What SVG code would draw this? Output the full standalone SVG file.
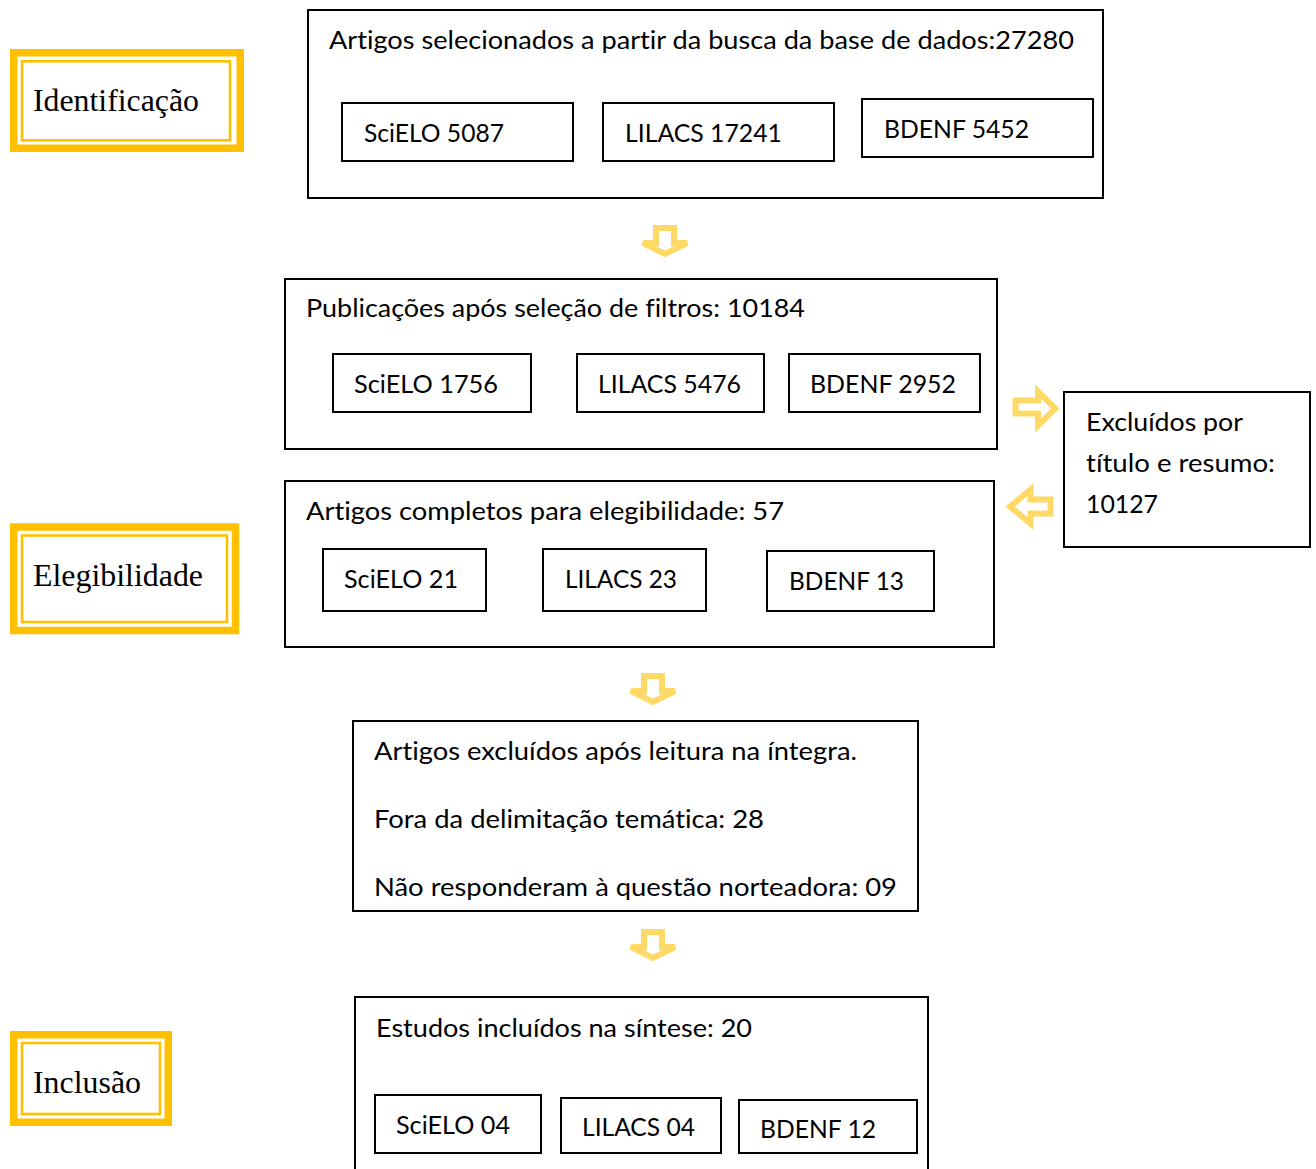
<svg xmlns="http://www.w3.org/2000/svg" xmlns:xlink="http://www.w3.org/1999/xlink" width="1316" height="1169" viewBox="0 0 1316 1169">
<style>
.box{fill:#fff;stroke:#000;stroke-width:2}
.t{font-family:Lato,"Open Sans","Liberation Sans",sans-serif;font-size:25px;fill:#000;font-variant-ligatures:none;font-feature-settings:"liga" 0}
.s{font-family:"Liberation Serif","Times New Roman",serif;font-size:32px;fill:#000}
.gold{fill:#fff;stroke:#FFC000;stroke-width:7.5}
.gold2{fill:none;stroke:#FFC000;stroke-width:2.6}
.arr{fill:#fff;stroke:#FFD966;stroke-width:6;stroke-linejoin:miter}
</style>
<defs>
<path id="down" d="M-9,3 H9 V18 H22 L0,29 L-22,18 H-9 Z"/>
</defs>
<rect width="1316" height="1169" fill="#fff"/>

<g id="label-identificacao">
<rect class="gold" x="13.75" y="52.75" width="226.5" height="95.5"/>
<rect class="gold2" x="22" y="61.3" width="208" height="79"/>
<text class="s" x="33" y="111" textLength="166" lengthAdjust="spacingAndGlyphs">Identificação</text>
</g>
<g id="label-elegibilidade">
<rect class="gold" x="13.75" y="527" width="221.75" height="103.5"/>
<rect class="gold2" x="22" y="535.5" width="205" height="86.5"/>
<text class="s" x="33" y="586" textLength="170" lengthAdjust="spacingAndGlyphs">Elegibilidade</text>
</g>
<g id="label-inclusao">
<rect class="gold" x="13.75" y="1034.75" width="154.5" height="87.5"/>
<rect class="gold2" x="22" y="1043" width="138" height="71"/>
<text class="s" x="33" y="1093" textLength="108" lengthAdjust="spacingAndGlyphs">Inclusão</text>
</g>

<g id="connectors">
<use xlink:href="#down" class="arr" x="665" y="225"/>
<use xlink:href="#down" class="arr" x="653" y="673"/>
<use xlink:href="#down" class="arr" x="653" y="929"/>
<path class="arr" stroke-width="5" d="M1015.5,400.5 H1038 V391.5 L1055,408.5 L1038,425.5 V413.5 H1015.5 Z"/>
<path class="arr" stroke-width="5" d="M1050.5,499.5 H1030.5 V489.5 L1010,506.5 L1030.5,523.5 V513.5 H1050.5 Z"/>
</g>

<g id="node-busca">
<rect class="box" x="308" y="10" width="795" height="188"/>
<text class="t" x="329" y="49" textLength="745" lengthAdjust="spacingAndGlyphs">Artigos selecionados a partir da busca da base de dados:27280</text>
<rect class="box" x="342" y="103" width="231" height="58"/>
<text class="t" x="364" y="142" textLength="140" lengthAdjust="spacingAndGlyphs">SciELO 5087</text>
<rect class="box" x="603" y="103" width="231" height="58"/>
<text class="t" x="625" y="142" textLength="157" lengthAdjust="spacingAndGlyphs">LILACS 17241</text>
<rect class="box" x="862" y="99" width="231" height="58"/>
<text class="t" x="884" y="138" textLength="145" lengthAdjust="spacingAndGlyphs">BDENF 5452</text>
</g>

<g id="node-filtros">
<rect class="box" x="285" y="279" width="712" height="170"/>
<text class="t" x="306" y="317" textLength="499" lengthAdjust="spacingAndGlyphs">Publicações após seleção de filtros: 10184</text>
<rect class="box" x="333" y="354" width="198" height="58"/>
<text class="t" x="354" y="393" textLength="144" lengthAdjust="spacingAndGlyphs">SciELO 1756</text>
<rect class="box" x="577" y="354" width="187" height="58"/>
<text class="t" x="598" y="393" textLength="143" lengthAdjust="spacingAndGlyphs">LILACS 5476</text>
<rect class="box" x="789" y="354" width="191" height="58"/>
<text class="t" x="810" y="393" textLength="146" lengthAdjust="spacingAndGlyphs">BDENF 2952</text>
</g>

<g id="node-excluidos">
<rect class="box" x="1064" y="392" width="246" height="155"/>
<text class="t" x="1086" y="431" textLength="157" lengthAdjust="spacingAndGlyphs">Excluídos por</text>
<text class="t" x="1086" y="472" textLength="189" lengthAdjust="spacingAndGlyphs">título e resumo:</text>
<text class="t" x="1086" y="513" textLength="72" lengthAdjust="spacingAndGlyphs">10127</text>
</g>

<g id="node-elegibilidade">
<rect class="box" x="285" y="481" width="709" height="166"/>
<text class="t" x="306" y="520" textLength="478" lengthAdjust="spacingAndGlyphs">Artigos completos para elegibilidade: 57</text>
<rect class="box" x="323" y="549" width="163" height="62"/>
<text class="t" x="344" y="588" textLength="114" lengthAdjust="spacingAndGlyphs">SciELO 21</text>
<rect class="box" x="543" y="549" width="163" height="62"/>
<text class="t" x="565" y="588" textLength="112" lengthAdjust="spacingAndGlyphs">LILACS 23</text>
<rect class="box" x="767" y="551" width="167" height="60"/>
<text class="t" x="789" y="590" textLength="115" lengthAdjust="spacingAndGlyphs">BDENF 13</text>
</g>

<g id="node-leitura">
<rect class="box" x="353" y="721" width="565" height="190"/>
<text class="t" x="374" y="760" textLength="483" lengthAdjust="spacingAndGlyphs">Artigos excluídos após leitura na íntegra.</text>
<text class="t" x="374" y="828" textLength="390" lengthAdjust="spacingAndGlyphs">Fora da delimitação temática: 28</text>
<text class="t" x="374" y="896" textLength="523" lengthAdjust="spacingAndGlyphs">Não responderam à questão norteadora: 09</text>
</g>

<g id="node-inclusao">
<rect class="box" x="355" y="997" width="573" height="200"/>
<text class="t" x="376" y="1037" textLength="376" lengthAdjust="spacingAndGlyphs">Estudos incluídos na síntese: 20</text>
<rect class="box" x="375" y="1095" width="166" height="58"/>
<text class="t" x="396" y="1134" textLength="114" lengthAdjust="spacingAndGlyphs">SciELO 04</text>
<rect class="box" x="561" y="1098" width="160" height="55"/>
<text class="t" x="582" y="1136" textLength="113" lengthAdjust="spacingAndGlyphs">LILACS 04</text>
<rect class="box" x="739" y="1100" width="178" height="53"/>
<text class="t" x="760" y="1138" textLength="116" lengthAdjust="spacingAndGlyphs">BDENF 12</text>
</g>
</svg>
